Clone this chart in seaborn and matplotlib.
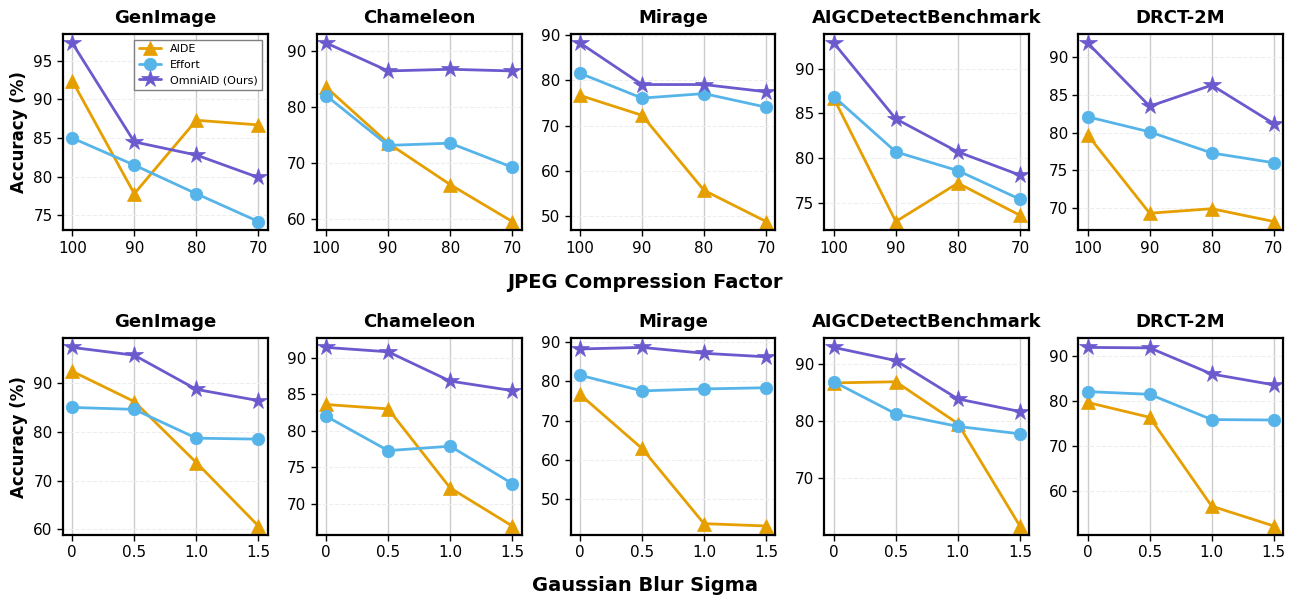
import numpy as np
import pandas as pd
import matplotlib
matplotlib.use("Agg")
import matplotlib.pyplot as plt
import seaborn as sns

datasets = ["GenImage", "Chameleon", "Mirage", "AIGCDetectBenchmark", "DRCT-2M"]
methods = ["AIDE", "Effort", "OmniAID (Ours)"]
jpeg_x = [100, 90, 80, 70]
blur_x = [0, 0.5, 1.0, 1.5]
jpeg_ticklabels = ["100", "90", "80", "70"]
blur_ticklabels = ["0", "0.5", "1.0", "1.5"]

# JPEG compression results
jpeg_aide = [[92.4, 77.8, 87.3, 86.7], [83.5, 73.5, 66.1, 59.5], [76.7, 72.3, 55.7, 48.8],
             [86.7, 72.9, 77.2, 73.6], [79.7, 69.3, 69.9, 68.2]]
jpeg_effort = [[85.0, 81.5, 77.8, 74.2], [82.0, 73.1, 73.5, 69.2], [81.6, 76.1, 77.1, 74.1],
               [86.9, 80.7, 78.6, 75.4], [82.1, 80.1, 77.3, 76.0]]
jpeg_omni = [[97.3, 84.5, 82.8, 79.9], [91.4, 86.4, 86.7, 86.4], [88.3, 79.1, 79.1, 77.5],
             [92.9, 84.4, 80.7, 78.1], [91.9, 83.5, 86.3, 81.2]]

# Gaussian blur results
blur_aide = [[92.4, 86.2, 73.7, 60.7], [83.6, 83.0, 72.2, 67.0], [76.7, 62.9, 43.7, 43.1],
             [86.7, 86.9, 79.6, 61.7], [79.7, 76.4, 56.7, 52.3]]
blur_effort = [[85.0, 84.6, 78.7, 78.5], [82.0, 77.3, 77.9, 72.8], [81.6, 77.6, 78.1, 78.4],
               [86.9, 81.3, 79.1, 77.8], [82.1, 81.5, 75.9, 75.8]]
blur_omni = [[97.3, 95.7, 88.7, 86.4], [91.4, 90.8, 86.8, 85.5], [88.3, 88.7, 87.2, 86.3],
             [92.9, 90.6, 83.9, 81.7], [91.9, 91.8, 86.0, 83.6]]

colors = {"AIDE": "#E69F00", "Effort": "#56B4E9", "OmniAID (Ours)": "#6A5ACD"}
markers = {"AIDE": "^", "Effort": "o", "OmniAID (Ours)": "*"}
msize = {"AIDE": 10, "Effort": 9, "OmniAID (Ours)": 13}

sns.set_theme(style="white")
plt.rcParams['font.family'] = ['DejaVu Sans']
plt.rcParams.update({"text.color": "black", "axes.labelcolor": "black",
                     "xtick.color": "black", "ytick.color": "black"})

fig, axes = plt.subplots(2, 5, figsize=(12.9, 5.97), dpi=100)
fig.subplots_adjust(left=0.0488, right=0.9946, top=0.943, bottom=0.104, wspace=0.24, hspace=0.55)

rows = [(jpeg_x, jpeg_ticklabels, [jpeg_aide, jpeg_effort, jpeg_omni], True),
        (blur_x, blur_ticklabels, [blur_aide, blur_effort, blur_omni], False)]

for r, (xs, xtl, series, invert) in enumerate(rows):
    for c, ds in enumerate(datasets):
        ax = axes[r, c]
        recs = []
        for m, vals in zip(methods, series):
            for x, v in zip(xs, vals[c]):
                recs.append({"x": x, "acc": v, "method": m})
        df = pd.DataFrame(recs)
        for m in methods:
            sub = df[df.method == m]
            sns.lineplot(data=sub, x="x", y="acc", ax=ax, color=colors[m], marker=markers[m],
                         markersize=msize[m], markeredgewidth=0.5, markeredgecolor=colors[m],
                         linewidth=2, label=m, legend=False)
        ax.set_xticks(xs)
        ax.set_xticklabels(xtl)
        if invert:
            ax.set_xlim(101.5, 68.5)
        else:
            ax.set_xlim(-0.075, 1.575)
        ax.set_title(ds, fontsize=13, fontweight="bold", pad=8, color="black")
        ax.set_xlabel("")
        ax.set_ylabel("Accuracy (%)" if c == 0 else "", fontsize=12, fontweight="bold")
        ax.tick_params(axis="both", labelsize=11, length=4, width=1, direction="out",
                       bottom=True, left=True, color="black", labelcolor="black")
        ax.grid(True, axis="x", color="#cccccc", linewidth=1)
        ax.grid(True, axis="y", color="#eeeeee", linestyle="--", linewidth=0.8)
        ax.set_axisbelow(True)
        for sp in ax.spines.values():
            sp.set_color("black")
            sp.set_linewidth(1.6)

axes[0, 0].legend(loc="upper right", fontsize=8, frameon=True, edgecolor="gray",
                  fancybox=False, framealpha=1, borderpad=0.4, handlelength=2)

fig.text(0.5, 0.526, "JPEG Compression Factor", ha="center", va="center",
         fontsize=14, fontweight="bold", color="black")
fig.text(0.5, 0.02, "Gaussian Blur Sigma", ha="center", va="center",
         fontsize=14, fontweight="bold", color="black")

fig.savefig("out.png", dpi=100)
